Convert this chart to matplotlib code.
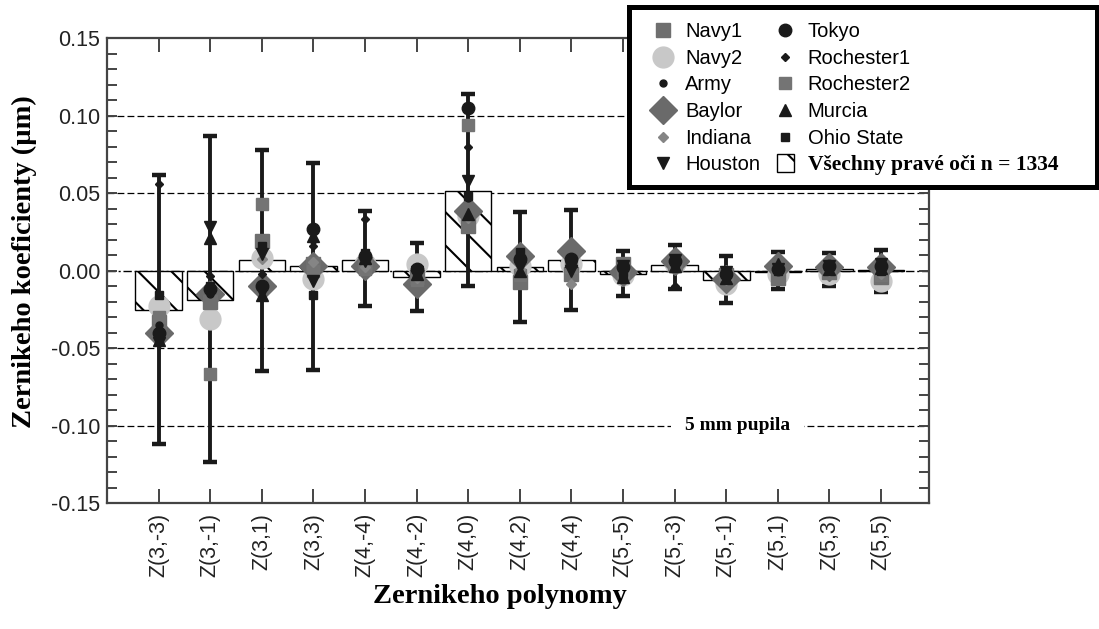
import numpy as np
import matplotlib
matplotlib.use("Agg")
import matplotlib.pyplot as plt
from matplotlib.patches import Rectangle
from matplotlib.legend_handler import HandlerPatch

plt.rcParams['font.family'] = ['Liberation Sans', 'DejaVu Sans']
plt.rcParams['hatch.linewidth'] = 1.5

# data (micrometres)
cats = ['Z(3,-3)', 'Z(3,-1)', 'Z(3,1)', 'Z(3,3)', 'Z(4,-4)', 'Z(4,-2)', 'Z(4,0)', 'Z(4,2)',
        'Z(4,4)', 'Z(5,-5)', 'Z(5,-3)', 'Z(5,-1)', 'Z(5,1)', 'Z(5,3)', 'Z(5,5)']

all_eyes = [-0.0254, -0.0187, 0.0069, 0.0028, 0.0069, -0.0043, 0.0512, 0.0020,
            0.0069, -0.0022, 0.0039, -0.0058, -0.0010, 0.0010, 0.0005]

err_hi = [0.0617, 0.0867, 0.0780, 0.0695, 0.0383, 0.0177, 0.1140, 0.0380,
          0.0390, 0.0125, 0.0166, 0.0093, 0.0119, 0.0114, 0.0135]
err_lo = [-0.1116, -0.1236, -0.0649, -0.0640, -0.0230, -0.0262, -0.0101, -0.0333,
          -0.0252, -0.0165, -0.0118, -0.0208, -0.0118, -0.0097, -0.0135]

navy1 = [-0.033, -0.020, 0.019, 0.004, 0.0043, -0.004, 0.029, -0.0075, -0.002, 0.0043, 0.004, -0.003, -0.005, -0.001, -0.004]
navy2 = [-0.0226, -0.031, 0.008, -0.0054, 0.004, 0.0043, 0.035, 0.003, 0.004, -0.003, 0.005, -0.0086, -0.002, -0.002, -0.0065]
army = [-0.035, -0.015, -0.013, 0.020, 0.0075, 0.000, 0.047, 0.004, 0.0075, -0.002, 0.005, -0.004, 0.000, 0.001, 0.001]
baylor = [-0.040, -0.015, -0.0097, 0.003, 0.003, -0.0086, 0.0387, 0.0097, 0.0129, -0.0006, 0.0065, -0.0054, 0.003, 0.002, 0.002]
indiana = [-0.038, -0.012, 0.0075, 0.0055, 0.002, -0.005, 0.034, 0.001, -0.0086, -0.004, 0.004, -0.006, 0.002, 0.000, -0.002]
houston = [-0.047, 0.028, 0.011, -0.0065, 0.006, -0.001, 0.058, 0.002, 0.000, 0.003, 0.007, -0.001, 0.001, 0.003, 0.004]
tokyo = [-0.040, -0.012, -0.010, 0.027, 0.0097, 0.001, 0.1048, 0.0075, 0.0075, 0.002, 0.006, -0.002, 0.001, 0.003, 0.003]
roch1 = [0.056, -0.0035, -0.002, 0.0157, 0.0334, 0.002, 0.0796, 0.005, 0.003, 0.001, -0.0097, -0.004, 0.003, 0.004, 0.005]
roch2 = [-0.030, -0.0667, 0.043, 0.000, 0.001, -0.006, 0.094, -0.003, 0.002, -0.001, 0.003, -0.002, 0.001, 0.002, -0.003]
murcia = [-0.045, 0.021, -0.016, 0.0226, 0.008, -0.002, 0.0366, 0.000, 0.006, -0.004, 0.003, -0.005, 0.004, 0.001, 0.0015]
ohio = [-0.0157, -0.010, 0.0157, -0.0157, 0.0114, -0.003, 0.048, 0.012, 0.005, -0.003, 0.005, -0.003, 0.000, 0.002, 0.000]

x = np.arange(len(cats))
serif = ['Liberation Serif', 'DejaVu Serif']

fig = plt.figure(figsize=(10.99, 6.29), dpi=100)
ax = fig.add_axes([0.0974, 0.2003, 0.748, 0.739])

# reference lines
for yv in [-0.10, -0.05, 0.05, 0.10]:
    ax.axhline(yv, color='black', lw=0.9, ls=(0, (5.5, 2.5)), zorder=1)
ax.axhline(0, color='black', lw=1.0, ls=(0, (6, 2, 1.5, 2)), zorder=1)

# all right eyes (hatched bars)
bars = ax.bar(x, all_eyes, width=0.9, facecolor='white', edgecolor='black',
              linewidth=1.0, hatch='\\', zorder=2)

# range bars
lo = np.array(err_lo)
hi = np.array(err_hi)
ax.errorbar(x, (lo + hi) / 2, yerr=(hi - lo) / 2, fmt='none', ecolor='#1a1a1a',
            elinewidth=2.8, capsize=5, capthick=3.2, zorder=3)

dark = '#1a1a1a'
groups = [
    ('Navy2', navy2, 'o', 15, '#c8c8c8'),
    ('Baylor', baylor, 'D', 14, '#6a6a6a'),
    ('Navy1', navy1, 's', 10.5, '#6f6f6f'),
    ('Rochester2', roch2, 's', 9, '#747474'),
    ('Indiana', indiana, 'D', 5, '#858585'),
    ('Tokyo', tokyo, 'o', 9, dark),
    ('Army', army, 'o', 5, dark),
    ('Houston', houston, 'v', 8.5, dark),
    ('Murcia', murcia, '^', 8.5, dark),
    ('Rochester1', roch1, 'D', 4.5, dark),
    ('Ohio State', ohio, 's', 6, dark),
]
handles = {}
for i, (name, vals, mk, ms, col) in enumerate(groups):
    h, = ax.plot(x, vals, linestyle='none', marker=mk, markersize=ms,
                 markerfacecolor=col, markeredgecolor=col, zorder=4 + i * 0.1)
    handles[name] = h


def square_patch(legend, orig_handle, xdescent, ydescent, width, height, fontsize):
    s = height * 1.25
    return Rectangle((width / 2 - s / 2 - xdescent, height / 2 - s / 2 - ydescent), s, s)


# legend: thick frame drawn separately so it can be wider than the entries
frame = Rectangle((629 / 1099, 1 - 187 / 629), 468 / 1099, 180 / 629, transform=fig.transFigure,
                  facecolor='white', edgecolor='black', linewidth=3.6, zorder=4)
fig.patches.append(frame)

order = ['Navy1', 'Navy2', 'Army', 'Baylor', 'Indiana', 'Houston',
         'Tokyo', 'Rochester1', 'Rochester2', 'Murcia', 'Ohio State']
leg_handles = [handles[n] for n in order] + [bars.patches[0]]
leg_labels = order + ['Všechny pravé oči n = 1334']
leg = fig.legend(leg_handles, leg_labels, ncol=2, loc='upper left',
                 bbox_to_anchor=(650 / 1099, 1 - 22 / 629), frameon=False,
                 fontsize=14.5, handlelength=1.3, handletextpad=0.45, labelspacing=0.38,
                 columnspacing=0.6, borderpad=0, borderaxespad=0, numpoints=1,
                 handler_map={bars.patches[0]: HandlerPatch(patch_func=square_patch)})
leg.set_zorder(6)
last = leg.get_texts()[-1]
last.set_fontfamily(serif)
last.set_fontweight('bold')
last.set_fontsize(15.5)

ax.text(11.22, -0.10, '5 mm pupila', ha='center', va='center', fontsize=14,
        fontweight='bold', family=serif, zorder=5,
        bbox=dict(boxstyle='square,pad=0.7', facecolor='white', edgecolor='none'))

ax.set_xlim(-1, 14.93)
ax.set_ylim(-0.15, 0.15)
ax.set_xticks(x)
ax.set_xticklabels(cats, rotation=90, fontsize=15.5, color='#222')
yt = np.arange(-0.15, 0.151, 0.05)
ax.set_yticks(yt)
ax.set_yticklabels(['%.2f' % v if abs(v) > 1e-9 else '0.00' for v in yt],
                   fontsize=15.5, color='#222')
ax.set_yticks(np.arange(-0.15, 0.151, 0.01), minor=True)
ax.tick_params(axis='x', which='major', direction='in', length=10, width=1.4,
               top=True, color='#444', pad=7)
ax.tick_params(axis='y', which='both', direction='in', length=7, width=1.4,
               right=True, color='#444', pad=5)
for s in ax.spines.values():
    s.set_color('#444')
    s.set_linewidth(1.6)

ax.set_ylabel('Zernikeho koeficienty (µm)', fontsize=20.5, fontweight='bold', family=serif)
ax.yaxis.set_label_coords(-0.085, 0.52)
ax.set_xlabel('Zernikeho polynomy', fontsize=20.5, fontweight='bold', family=serif)
ax.xaxis.set_label_coords((500 - 107) / 822, -0.174)

fig.savefig('out.png', dpi=100)
